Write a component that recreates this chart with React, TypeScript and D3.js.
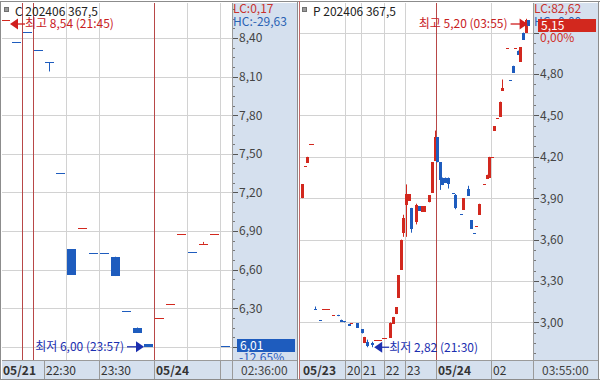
import React from 'react';
import * as d3 from 'd3';

type Candle = [number, number, number, number, number, number]; // t, open, high, low, close, up

// ---------- DATA ----------
const callTitle = 'C 202406 367,5';
const putTitle = 'P 202406 367,5';

const callCandles: Candle[] = [
  [0, 8.54, 8.54, 8.54, 8.54, 1],
  [1, 8.37, 8.37, 8.37, 8.37, 0],
  [2, 8.45, 8.45, 8.45, 8.45, 0],
  [3, 8.31, 8.31, 8.31, 8.31, 0],
  [4, 8.21, 8.21, 8.14, 8.21, 0],
  [5, 7.35, 7.35, 7.35, 7.35, 0],
  [6, 6.76, 6.76, 6.56, 6.56, 0],
  [7, 6.92, 6.92, 6.92, 6.92, 1],
  [8, 6.73, 6.73, 6.73, 6.73, 0],
  [9, 6.73, 6.73, 6.73, 6.73, 0],
  [10, 6.7, 6.7, 6.55, 6.55, 0],
  [11, 6.28, 6.28, 6.28, 6.28, 0],
  [12, 6.15, 6.15, 6.11, 6.11, 0],
  [13, 6.02, 6.02, 6.0, 6.0, 0],
  [14, 6.22, 6.22, 6.22, 6.22, 1],
  [15, 6.33, 6.33, 6.33, 6.33, 1],
  [16, 6.88, 6.88, 6.88, 6.88, 1],
  [17, 6.74, 6.74, 6.74, 6.74, 0],
  [18, 6.8, 6.815, 6.8, 6.8, 1],
  [19, 6.88, 6.88, 6.88, 6.88, 1],
  [20, 6.01, 6.01, 6.01, 6.01, 0],
];

const putCandles: Candle[] = [
  [0, 3.9, 4.0, 3.9, 4.0, 1],
  [1, 4.13, 4.13, 4.13, 4.13, 1],
  [2, 4.155, 4.2, 4.155, 4.2, 1],
  [3, 4.29, 4.29, 4.29, 4.29, 1],
  [4, 4.29, 4.29, 4.29, 4.29, 1],
  [5, 3.1, 3.115, 3.09, 3.1, 0],
  [7, 3.02, 3.02, 3.02, 3.02, 0],
  [8, 3.095, 3.095, 3.095, 3.095, 1],
  [9, 3.095, 3.095, 3.095, 3.095, 1],
  [10, 3.095, 3.095, 3.095, 3.095, 1],
  [12, 3.055, 3.055, 3.055, 3.055, 1],
  [14, 3.055, 3.055, 3.045, 3.045, 0],
  [15, 3.02, 3.02, 3.005, 3.005, 0],
  [16, 3.01, 3.01, 3.0, 3.0, 0],
  [18, 2.99, 2.99, 2.975, 2.975, 0],
  [19, 2.995, 2.995, 2.995, 2.995, 1],
  [21, 2.995, 2.995, 2.96, 2.96, 0],
  [23, 2.95, 2.95, 2.92, 2.92, 0],
  [24, 2.85, 2.895, 2.85, 2.895, 1],
  [25, 2.86, 2.875, 2.82, 2.83, 0],
  [27, 2.85, 2.86, 2.82, 2.835, 0],
  [28, 2.873, 2.873, 2.873, 2.873, 1],
  [29, 2.873, 2.873, 2.873, 2.873, 1],
  [30, 2.873, 2.873, 2.873, 2.873, 1],
  [31, 2.89, 2.89, 2.89, 2.89, 1],
  [32, 2.89, 2.89, 2.89, 2.89, 1],
  [34, 2.89, 3.0, 2.89, 2.995, 1],
  [35, 2.99, 3.04, 2.99, 3.04, 1],
  [36, 3.06, 3.11, 3.06, 3.11, 1],
  [37, 3.18, 3.34, 3.18, 3.34, 1],
  [38, 3.38, 3.6, 3.38, 3.6, 1],
  [39, 3.65, 3.78, 3.62, 3.76, 1],
  [40, 3.85, 4.0, 3.62, 3.93, 1],
  [41, 3.88, 3.93, 3.88, 3.93, 1],
  [42, 3.83, 3.83, 3.65, 3.68, 0],
  [44, 3.73, 3.86, 3.71, 3.85, 1],
  [45, 3.84, 3.84, 3.81, 3.81, 0],
  [46, 3.8, 3.84, 3.8, 3.84, 1],
  [47, 3.8, 3.84, 3.8, 3.84, 1],
  [49, 3.87, 3.92, 3.87, 3.92, 1],
  [50, 3.94, 4.16, 3.94, 4.16, 1],
  [51, 4.17, 4.39, 4.17, 4.34, 1],
  [52, 4.34, 4.34, 4.16, 4.16, 0],
  [53, 4.16, 4.16, 3.96, 4.03, 0],
  [54, 4.05, 4.05, 3.995, 3.995, 0],
  [55, 4.05, 4.05, 4.01, 4.01, 0],
  [56, 4.05, 4.05, 3.97, 4.0, 0],
  [58, 3.94, 3.94, 3.94, 3.94, 0],
  [59, 3.92, 3.93, 3.82, 3.83, 0],
  [61, 3.786, 3.786, 3.786, 3.786, 0],
  [62, 3.815, 3.9, 3.815, 3.9, 1],
  [64, 3.97, 3.99, 3.916, 3.916, 0],
  [65, 3.74, 3.74, 3.68, 3.68, 0],
  [66, 3.65, 3.65, 3.65, 3.65, 0],
  [67, 3.7, 3.7, 3.7, 3.7, 1],
  [68, 3.78, 3.86, 3.78, 3.86, 1],
  [70, 4.0, 4.0, 4.0, 4.0, 1],
  [71, 4.04, 4.07, 4.04, 4.07, 1],
  [72, 4.05, 4.2, 4.05, 4.2, 1],
  [73, 4.2, 4.2, 4.2, 4.2, 1],
  [74, 4.39, 4.42, 4.39, 4.42, 1],
  [75, 4.48, 4.48, 4.48, 4.48, 1],
  [76, 4.49, 4.6, 4.49, 4.6, 1],
  [77, 4.68, 4.76, 4.68, 4.7, 1],
  [79, 4.99, 4.99, 4.99, 4.99, 1],
  [80, 4.76, 4.76, 4.76, 4.76, 0],
  [81, 4.86, 4.86, 4.81, 4.81, 0],
  [82, 4.99, 4.99, 4.99, 4.99, 1],
  [83, 4.97, 4.97, 4.94, 4.94, 0],
  [84, 4.89, 4.995, 4.89, 4.995, 1],
  [85, 5.1, 5.1, 5.05, 5.05, 0],
  [86, 5.1, 5.2, 5.1, 5.19, 1],
  [87, 5.19, 5.19, 5.15, 5.15, 0],
];

const callTicks = [6.0, 6.3, 6.6, 6.9, 7.2, 7.5, 7.8, 8.1, 8.4, 8.7];
const putTicks = [2.7, 3.0, 3.3, 3.6, 3.9, 4.2, 4.5, 4.8, 5.1];

const callTimeLabels = ['05/21', '22:30', '23:30', '05/24'];
const callTimeAt = [0, 4, 9, 14];
const callTimeBold = [1, 0, 0, 1];
const callDividers = [4, 9, 14, 20];
const callGrid = [6, 9, 17, 20];
const callDayBreaks = [2, 3, 14];

const putTimeLabels = ['05/23', '20', '21', '22', '23', '05/24', '02'];
const putTimeAt = [0, 17, 23, 32, 40, 52, 73];
const putTimeBold = [1, 0, 0, 0, 0, 1, 0];
const putDividers = [17, 23, 32, 40, 52, 73];
const putGrid = [17, 23, 32, 40, 73];
const putDayBreaks = [52];

const callStats = { lc: 'LC:0,17', hc: 'HC:-29,63', change: '-12,65%', clock: '02:36:00' };
const putStats = { lc: 'LC:82,62', hc: 'HC:-0,00', change: '0,00%', clock: '03:55:00' };
const callHigh = { t: 0, v: 8.54, time: '21:45' };
const callLow = { t: 13, v: 6.0, time: '23:57' };
const putHigh = { t: 86, v: 5.2, time: '03:55' };
const putLow = { t: 27, v: 2.82, time: '21:30' };

// ---------- STYLE ----------
const FONT = '"Noto Sans CJK KR", "Noto Sans", sans-serif';
const RED = '#d2281e';
const BLUE = '#1e5cbe';
const NAVY = '#1b2fb0';
const AXIS_BG = '#d5e0ee';
const GRID = '#d2d2d2';
const DAY = '#b84848';
const BORDER = '#8c8c8c';
const TOP = 3;
const BAND_Y = 360;
const BAND_B = 379;

const fmt = (v: number) => d3.format('.2f')(v).replace('.', ',');
const crisp = (v: number) => Math.round(v) + 0.5;

interface Spec {
  id: string;
  title: string;
  x0: number;
  axisX: number;
  right: number;
  xFirst: number;
  xStep: number;
  candleW: number;
  yDomain: [number, number];
  yRange: [number, number];
  candles: Candle[];
  ticks: number[];
  timeLabels: string[];
  timeAt: number[];
  timeBold: number[];
  dividers: number[];
  grid: number[];
  dayBreaks: number[];
  stats: { lc: string; hc: string; change: string; clock: string };
  high: { t: number; v: number; time: string };
  low: { t: number; v: number; time: string };
  highDir: 'left' | 'right';
  lowDir: 'left' | 'right';
  lastColor: string;
}

function Marker({ x, y, dir, text, color, arrowColor }: { x: number; y: number; dir: 'left' | 'right'; text: string; color: string; arrowColor: string }) {
  if (dir === 'left') {
    return (
      <g>
        <line x1={x + 6} x2={x + 15} y1={y} y2={y} stroke={arrowColor} strokeWidth={1.3} />
        <polygon points={`${x},${y} ${x + 8},${y - 5.5} ${x + 8},${y + 5.5}`} fill={arrowColor} />
        <text x={x + 15} y={y} dy="0.36em" fill={color} fontSize={12} fontFamily={FONT}>{text}</text>
      </g>
    );
  }
  return (
    <g>
      <line x1={x - 17} x2={x - 6} y1={y} y2={y} stroke={arrowColor} strokeWidth={1.3} />
      <polygon points={`${x},${y} ${x - 8},${y - 5.5} ${x - 8},${y + 5.5}`} fill={arrowColor} />
      <text x={x - 20} y={y} dy="0.36em" textAnchor="end" fill={color} fontSize={12} fontFamily={FONT}>{text}</text>
    </g>
  );
}

function Panel({ s }: { s: Spec }) {
  const x = d3.scaleLinear().domain([0, 1]).range([s.xFirst, s.xFirst + s.xStep]);
  const y = d3.scaleLinear().domain(s.yDomain).range(s.yRange);
  const boundary = (t: number) => x(t) - s.xStep / 2;
  const minor: number[] = [];
  for (let i = 0; i < s.ticks.length - 1; i++) {
    const a = s.ticks[i], b = s.ticks[i + 1];
    for (let k = 1; k < 4; k++) minor.push(a + ((b - a) * k) / 4);
  }
  const last = s.candles[s.candles.length - 1];
  const lastY = y(last[4]);
  const clipPlot = `plot-${s.id}`;
  const clipAxis = `axis-${s.id}`;
  const hw = s.candleW / 2;
  const yHighMark = Math.max(y(s.high.v), 24);
  // labels that stay readable (not under the last-price box, not off the top)
  const labelled = s.ticks.filter((v) => y(v) > 8 && y(v) < BAND_Y - 4 && Math.abs(y(v) - lastY) > 12);
  return (
    <g fontFamily={FONT}>
      <defs>
        <clipPath id={clipPlot}>
          <rect x={s.x0} y={TOP} width={s.axisX - s.x0} height={BAND_Y - TOP} />
        </clipPath>
        <clipPath id={clipAxis}>
          <rect x={s.axisX} y={TOP} width={s.right - s.axisX} height={BAND_Y - TOP} />
        </clipPath>
      </defs>
      <rect x={s.x0} y={TOP} width={s.axisX - s.x0} height={BAND_Y - TOP} fill="#fff" />
      <g clipPath={`url(#${clipPlot})`}>
        {s.ticks.map((v) => (
          <line key={'h' + v} x1={s.x0} x2={s.axisX} y1={crisp(y(v))} y2={crisp(y(v))} stroke={GRID} />
        ))}
        {s.grid.map((t) => (
          <line key={'v' + t} x1={crisp(boundary(t))} x2={crisp(boundary(t))} y1={TOP} y2={BAND_Y} stroke={GRID} />
        ))}
        {s.dayBreaks.map((t) => (
          <line key={'d' + t} x1={crisp(boundary(t))} x2={crisp(boundary(t))} y1={TOP} y2={BAND_Y} stroke={DAY} />
        ))}
        {s.candles.map((c) => {
          const [t, o, h, l, cl, up] = c;
          const col = up ? RED : BLUE;
          const left = Math.round(x(t) - hw);
          const top = Math.round(y(Math.max(o, cl)));
          const bot = Math.round(y(Math.min(o, cl)));
          const wx = left + Math.floor(s.candleW / 2) + 0.5;
          return (
            <g key={'c' + t}>
              {h !== l && <line x1={wx} x2={wx} y1={y(h)} y2={y(l)} stroke={col} strokeWidth={1} />}
              <rect x={left} y={top} width={s.candleW} height={Math.max(1, bot - top)} fill={col} />
            </g>
          );
        })}
        <Marker
          x={x(s.high.t) + hw}
          y={yHighMark}
          dir={s.highDir}
          text={`최고 ${fmt(s.high.v)} (${s.high.time})`}
          color="#c8201e"
          arrowColor="#d01e1e"
        />
        <Marker
          x={s.lowDir === 'left' ? x(s.low.t) + hw : x(s.low.t) - hw}
          y={y(s.low.v)}
          dir={s.lowDir}
          text={`최저 ${fmt(s.low.v)} (${s.low.time})`}
          color={NAVY}
          arrowColor={NAVY}
        />
        <rect x={s.x0 + 2.5} y={7.5} width={4} height={4} fill="#9a9a9a" stroke="#707070" />
        <text x={s.x0 + 13} y={16} fontSize={12} fill="#222">{s.title}</text>
      </g>

      <rect x={s.axisX} y={TOP} width={s.right - s.axisX} height={BAND_Y - TOP} fill={AXIS_BG} />
      <g clipPath={`url(#${clipAxis})`}>
        {minor.map((v, i) => (
          <line key={'m' + i} x1={s.axisX} x2={s.axisX + 3} y1={crisp(y(v))} y2={crisp(y(v))} stroke="#777" />
        ))}
        {s.ticks.map((v) => (
          <line key={'tk' + v} x1={s.axisX} x2={s.axisX + 6} y1={crisp(y(v))} y2={crisp(y(v))} stroke="#555" />
        ))}
        {labelled.map((v) => (
          <text key={'t' + v} x={s.axisX + 7} y={y(v)} dy="0.36em" fontSize={12} fill="#444">{fmt(v)}</text>
        ))}
        <text x={s.axisX + 1} y={13} fontSize={12} fill="#c8322d">{s.stats.lc}</text>
        <text x={s.axisX + 1} y={26} fontSize={12} fill="#2a62b4">{s.stats.hc}</text>
        <rect x={s.axisX + 5} y={Math.round(lastY - 6.5)} width={s.right - s.axisX - 7} height={13} fill={s.lastColor} />
        <text x={s.axisX + 8} y={lastY} dy="0.38em" fontSize={12} fill="#fff">{fmt(last[4])}</text>
        <text x={s.axisX + 7} y={lastY + 12} dy="0.36em" fontSize={12} fill={s.lastColor === RED ? '#d0302a' : '#2a5cc0'}>{s.stats.change}</text>
      </g>
      <line x1={s.axisX + 0.5} x2={s.axisX + 0.5} y1={TOP} y2={BAND_Y} stroke="#9a9a9a" />

      <rect x={s.x0} y={BAND_Y} width={s.right - s.x0} height={BAND_B - BAND_Y} fill={AXIS_BG} />
      <line x1={s.x0} x2={s.right} y1={BAND_Y + 0.5} y2={BAND_Y + 0.5} stroke="#9a9a9a" />
      {s.dividers.map((t) => (
        <line key={'bd' + t} x1={crisp(boundary(t))} x2={crisp(boundary(t))} y1={BAND_Y} y2={BAND_B} stroke="#9a9a9a" />
      ))}
      <line x1={s.axisX + 0.5} x2={s.axisX + 0.5} y1={BAND_Y} y2={BAND_B} stroke="#9a9a9a" />
      {s.timeLabels.map((lab, i) => (
        <text
          key={'tl' + i}
          x={Math.max(s.x0 + 1, Math.round(boundary(s.timeAt[i])) + 2)}
          y={375}
          fontSize={12}
          fontWeight={s.timeBold[i] ? 700 : 400}
          fill="#333"
        >
          {lab}
        </text>
      ))}
      <text x={s.axisX + 9} y={375} fontSize={12} fill="#444">{s.stats.clock}</text>
    </g>
  );
}

const callSpec: Spec = {
  id: 'call',
  title: callTitle,
  x0: 2,
  axisX: 232,
  right: 297,
  xFirst: 5.5,
  xStep: 11,
  candleW: 9,
  yDomain: [6.0, 8.4],
  yRange: [346.8, 38],
  candles: callCandles,
  ticks: callTicks,
  timeLabels: callTimeLabels,
  timeAt: callTimeAt,
  timeBold: callTimeBold,
  dividers: callDividers,
  grid: callGrid,
  dayBreaks: callDayBreaks,
  stats: callStats,
  high: callHigh,
  low: callLow,
  highDir: 'left',
  lowDir: 'right',
  lastColor: BLUE,
};

const putSpec: Spec = {
  id: 'put',
  title: putTitle,
  x0: 300,
  axisX: 533,
  right: 598,
  xFirst: 302.5,
  xStep: 2.6,
  candleW: 3,
  yDomain: [3.0, 4.8],
  yRange: [322.4, 74],
  candles: putCandles,
  ticks: putTicks,
  timeLabels: putTimeLabels,
  timeAt: putTimeAt,
  timeBold: putTimeBold,
  dividers: putDividers,
  grid: putGrid,
  dayBreaks: putDayBreaks,
  stats: putStats,
  high: putHigh,
  low: putLow,
  highDir: 'right',
  lowDir: 'left',
  lastColor: RED,
};

export default function App() {
  return (
    <svg width={600} height={381} viewBox="0 0 600 381" style={{ position: 'absolute', left: 0, top: 0, background: '#fff' }}>
      <rect x={0} y={0} width={600} height={381} fill="#fff" />
      <Panel s={callSpec} />
      <Panel s={putSpec} />
      {/* frame */}
      <line x1={0} x2={600} y1={1.5} y2={1.5} stroke={BORDER} />
      <line x1={0} x2={600} y1={BAND_B + 0.5} y2={BAND_B + 0.5} stroke={BORDER} />
      <line x1={0.5} x2={0.5} y1={1} y2={BAND_B} stroke={BORDER} />
      <line x1={297.5} x2={297.5} y1={1} y2={BAND_B} stroke={BORDER} />
      <line x1={299.5} x2={299.5} y1={1} y2={BAND_B} stroke="#c06a6a" />
      <line x1={598.5} x2={598.5} y1={1} y2={BAND_B} stroke={BORDER} />
    </svg>
  );
}
